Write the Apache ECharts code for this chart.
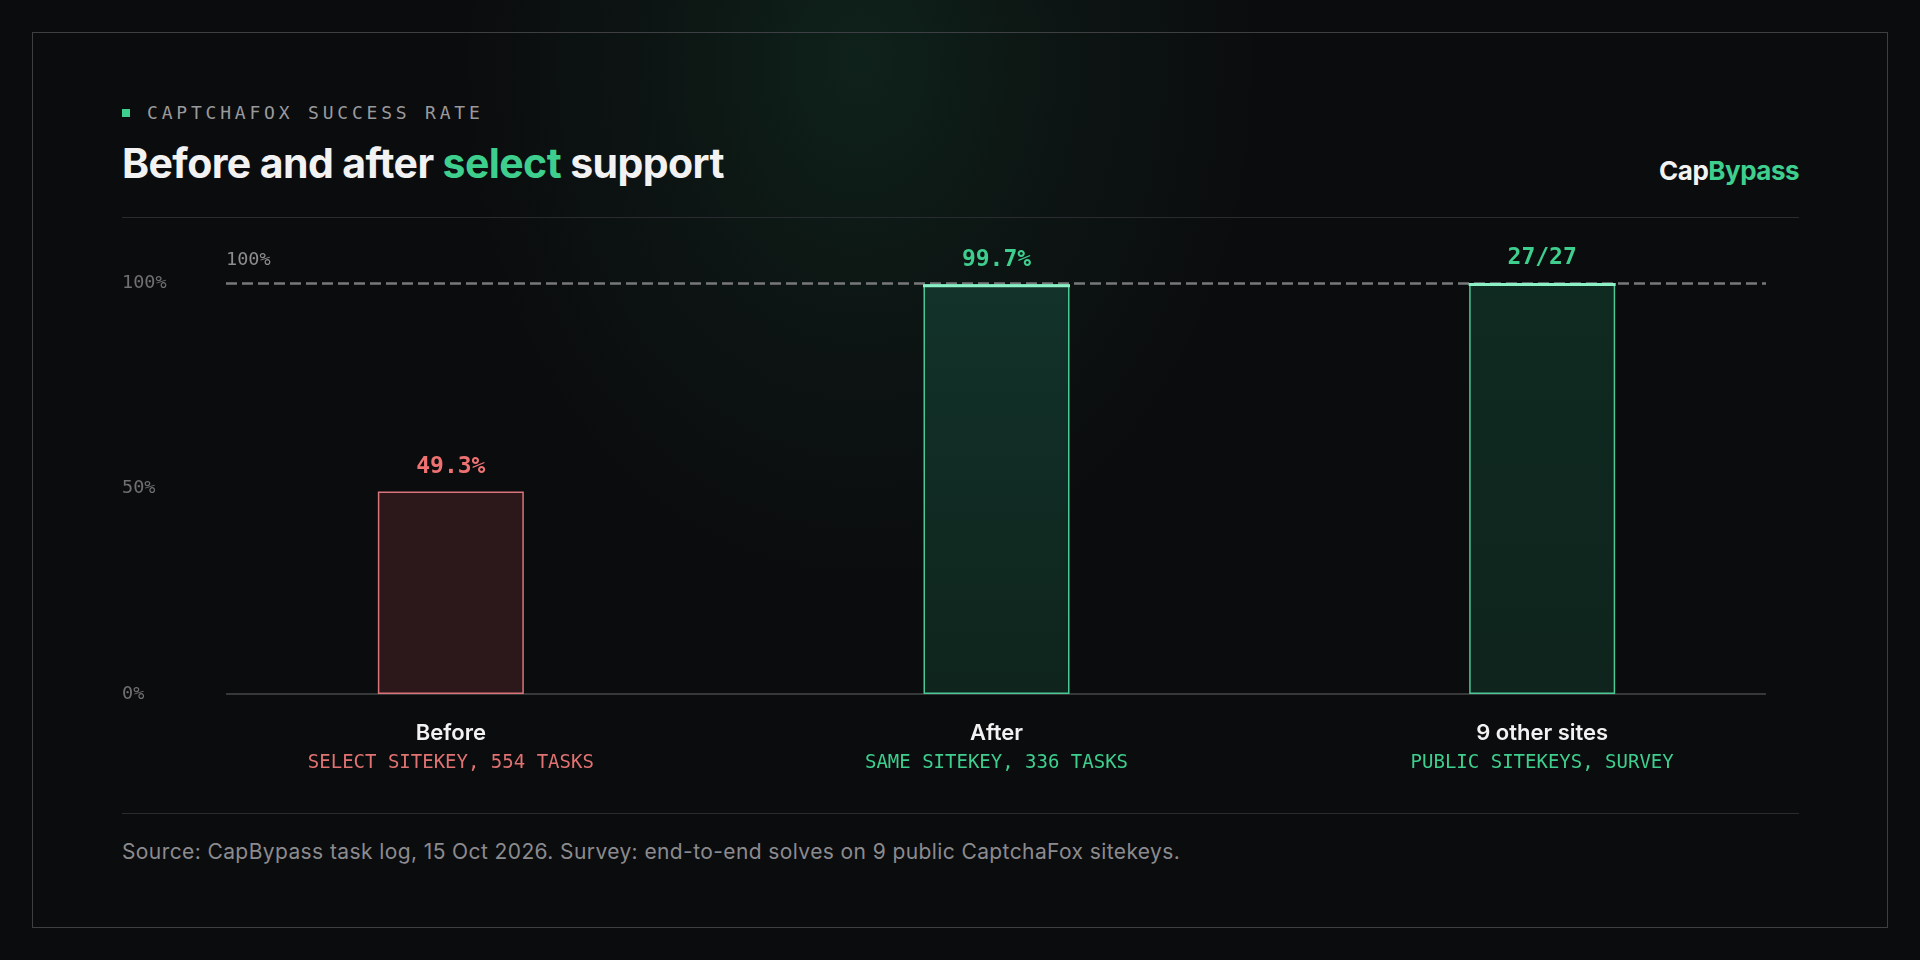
<!DOCTYPE html>
<html>
<head>
<meta charset="utf-8">
<script src="https://cdn.jsdelivr.net/npm/echarts@6/dist/echarts.min.js"></script>
<style>
  html, body { margin: 0; padding: 0; width: 1920px; height: 960px; overflow: hidden; background: #0b0c0e; }
  #bg { position: absolute; left: 0; top: 0; width: 1920px; height: 960px;
        background: radial-gradient(ellipse 400px 520px at 860px 60px, rgba(30,140,85,0.17) 0%, rgba(30,140,85,0.07) 50%, rgba(30,140,85,0) 100%); }
  #frame { position: absolute; left: 32px; top: 32px; width: 1854px; height: 894px; border: 1px solid #3e3f42; }
  #chart { position: absolute; left: 0; top: 0; width: 1920px; height: 960px; }
  .kicker-sq { position: absolute; left: 122px; top: 109px; width: 8px; height: 8px; background: #3ecf8e; }
  .kicker { position: absolute; left: 147px; top: 104px; font-family: "DejaVu Sans Mono", monospace; font-size: 18px; line-height: 18px; letter-spacing: 3.8px; color: #9a9a9c; white-space: nowrap; }
  .title { position: absolute; left: 122px; top: 143px; font-family: Inter, "Noto Sans", sans-serif; font-weight: 700; font-size: 41px; line-height: 41px; letter-spacing: -0.6px; color: #f2f2f2; white-space: nowrap; }
  .green { color: #3ecf8e; }
  .logo { position: absolute; right: 121px; top: 158px; font-family: Inter, "Noto Sans", sans-serif; font-weight: 700; font-size: 26px; line-height: 26px; letter-spacing: -0.5px; color: #f2f2f2; white-space: nowrap; }
  .rule { position: absolute; left: 122px; width: 1677px; height: 1px; background: #2a2b2e; }
  .foot { position: absolute; left: 122px; top: 841px; font-family: Inter, "Noto Sans", sans-serif; font-size: 21px; line-height: 21px; letter-spacing: 0.4px; color: #8b8b8f; white-space: nowrap; }
</style>
</head>
<body>
<div id="bg"></div>
<div id="frame"></div>
<div class="kicker-sq"></div>
<div class="kicker">CAPTCHAFOX SUCCESS RATE</div>
<div class="title">Before and after <span class="green">select</span> support</div>
<div class="logo">Cap<span class="green">Bypass</span></div>
<div class="rule" style="top:217px"></div>
<div class="rule" style="top:813px"></div>
<div class="foot">Source: CapBypass task log, 15 Oct 2026. Survey: end-to-end solves on 9 public CaptchaFox sitekeys.</div>
<div id="chart"></div>
<script>
// ---- data ----
const categories = ['Before', 'After', '9 other sites'];
const subtitles = ['SELECT SITEKEY, 554 TASKS', 'SAME SITEKEY, 336 TASKS', 'PUBLIC SITEKEYS, SURVEY'];
const values = [49.3, 99.7, 100];
const valueLabels = ['49.3%', '99.7%', '27/27'];
const tones = ['neg', 'pos', 'pos'];
const yTicks = [0, 50, 100];
const referenceValue = 100;

// ---- styles ----
const RED = '#ef7272', RED_BORDER = '#d9747a', RED_FILL = '#2c181b';
const GREEN = '#3ecf8e', GREEN_BORDER = '#4cc895';
const MONO = '"DejaVu Sans Mono", monospace';
const SANS = 'Inter, "Noto Sans", sans-serif';

const chart = echarts.init(document.getElementById('chart'), null, { renderer: 'canvas' });

const barData = values.map((v, i) => {
  const pos = tones[i] === 'pos';
  return {
    value: v,
    itemStyle: pos ? {
      color: new echarts.graphic.LinearGradient(0, 0, 0, 1, [
        { offset: 0, color: i === 1 ? '#12322a' : '#0f2a20' },
        { offset: 1, color: '#0e241c' }
      ]),
      borderColor: GREEN_BORDER, borderWidth: 1.5
    } : { color: RED_FILL, borderColor: RED_BORDER, borderWidth: 1.5 },
    label: { color: pos ? GREEN : RED }
  };
});

const capData = values.map((v, i) => tones[i] === 'pos' ? v : '-');

chart.setOption({
  animation: false,
  backgroundColor: 'transparent',
  grid: { left: 178, right: 105, top: 283, bottom: 266, containLabel: false },
  xAxis: {
    type: 'category',
    data: categories,
    axisLine: { show: false },
    axisTick: { show: false },
    axisLabel: {
      margin: 25,
      formatter: (val, idx) => `{name|${val}}\n{${tones[idx] === 'pos' ? 'subG' : 'subR'}|${subtitles[idx]}}`,
      rich: {
        name: { color: '#f2f2f2', fontFamily: SANS, fontSize: 22, fontWeight: 600, lineHeight: 28 },
        subR: { color: '#e07272', fontFamily: MONO, fontSize: 19, lineHeight: 32 },
        subG: { color: GREEN, fontFamily: MONO, fontSize: 19, lineHeight: 32 }
      }
    }
  },
  yAxis: {
    type: 'value',
    min: yTicks[0], max: yTicks[yTicks.length - 1], interval: yTicks[1] - yTicks[0],
    axisLine: { show: false },
    axisTick: { show: false },
    splitLine: { show: false },
    axisLabel: { formatter: '{value}%', color: '#707073', fontFamily: MONO, fontSize: 18.5, align: 'left', margin: 56 }
  },
  series: [
    {
      type: 'bar',
      data: barData,
      barWidth: 146,
      z: 2,
      label: {
        show: true, position: 'top', distance: 13,
        fontFamily: MONO, fontSize: 23, fontWeight: 'bold',
        formatter: p => valueLabels[p.dataIndex]
      },
      markLine: {
        silent: true,
        symbol: ['none', 'none'],
        z: 1,
        data: [
          [
            { yAxis: referenceValue, x: 226,
              lineStyle: { color: '#78787b', width: 2.5, type: [11, 5] },
              label: { show: true, position: 'insideStartTop', distance: [0, 13], formatter: referenceValue + '%', color: '#8d8d90', fontFamily: MONO, fontSize: 18.5 } },
            { yAxis: referenceValue, x: 1766 }
          ],
          [
            { yAxis: yTicks[0], x: 226,
              lineStyle: { color: '#46474a', width: 1.5, type: 'solid' },
              label: { show: false } },
            { yAxis: yTicks[0], x: 1766 }
          ]
        ]
      }
    },
    {
      type: 'pictorialBar',
      data: capData,
      symbol: 'rect',
      symbolSize: [147, 3],
      symbolPosition: 'end',
      itemStyle: { color: '#8cf0c6' },
      z: 3,
      silent: true
    }
  ]
});
</script>
</body>
</html>
